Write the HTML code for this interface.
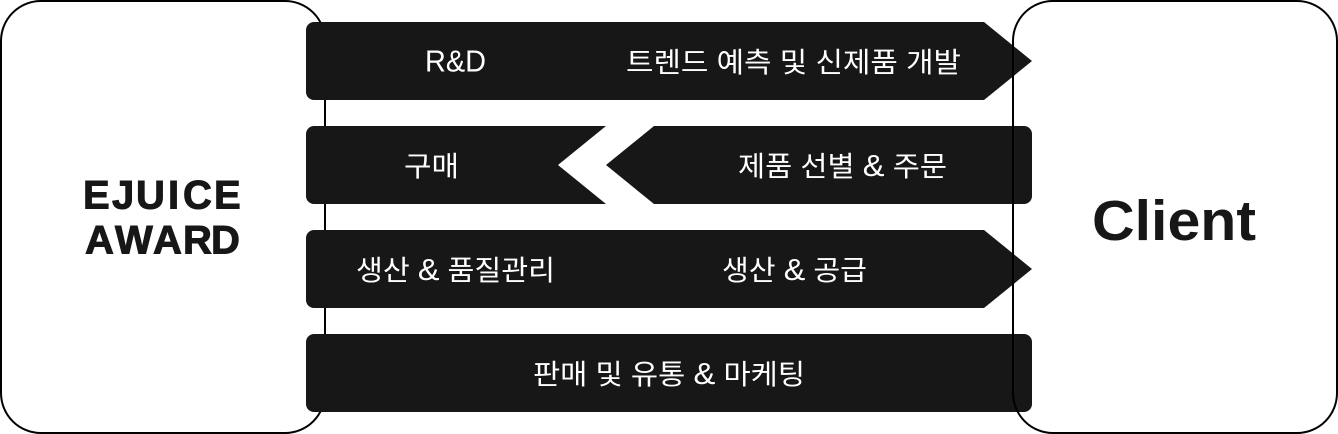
<!DOCTYPE html>
<html><head><meta charset="utf-8">
<style>
html,body{margin:0;padding:0;background:#fff;width:1338px;height:434px;overflow:hidden}
svg{display:block}
.k{font-family:"Liberation Sans","Noto Sans CJK KR",sans-serif;font-size:28px;fill:#fff;font-weight:400}
.a{font-size:31px}
</style></head>
<body>
<svg width="1338" height="434" viewBox="0 0 1338 434" xmlns="http://www.w3.org/2000/svg">
<rect x="1" y="1" width="324" height="432" rx="40" fill="#fff" stroke="#000" stroke-width="2"/>
<g fill="#171717">
<path d="M314 22H984L1032 61L984 100H314A8 8 0 0 1 306 92V30A8 8 0 0 1 314 22Z"/>
<path d="M314 126H606L558 165L606 204H314A8 8 0 0 1 306 196V134A8 8 0 0 1 314 126Z"/>
<path d="M654 126H1024A8 8 0 0 1 1032 134V196A8 8 0 0 1 1024 204H654L606 165Z"/>
<path d="M314 230H984L1032 269L984 308H314A8 8 0 0 1 306 300V238A8 8 0 0 1 314 230Z"/>
<rect x="306" y="334" width="726" height="78" rx="8"/>
</g>
<rect x="1013" y="1" width="324" height="432" rx="40" fill="none" stroke="#000" stroke-width="2"/>
<g class="k">
<text x="425" y="71.500" textLength="61" lengthAdjust="spacingAndGlyphs" style="font-size:31px">R&amp;D</text>
<text x="626" y="72" textLength="335" lengthAdjust="spacingAndGlyphs">트렌드 예측 및 신제품 개발</text>
<text x="404" y="176" textLength="55" lengthAdjust="spacingAndGlyphs">구매</text>
<text x="738" y="176" textLength="209" lengthAdjust="spacingAndGlyphs">제품 선별 <tspan class="a">&amp;</tspan> 주문</text>
<text x="356" y="280" textLength="199" lengthAdjust="spacingAndGlyphs">생산 <tspan class="a">&amp;</tspan> 품질관리</text>
<text x="722" y="280" textLength="145" lengthAdjust="spacingAndGlyphs">생산 <tspan class="a">&amp;</tspan> 공급</text>
<text x="533" y="384" textLength="272" lengthAdjust="spacingAndGlyphs">판매 및 유통 <tspan class="a">&amp;</tspan> 마케팅</text>
</g>
<text x="1092" y="240" textLength="164" lengthAdjust="spacingAndGlyphs" font-family="'Liberation Sans',sans-serif" font-weight="700" font-size="57" fill="#171717">Client</text>
<g font-family="'Liberation Sans',sans-serif" font-weight="700" font-size="40" fill="#171717" stroke="#171717" stroke-width="1">
<text x="83" y="208.500">E</text>
<text x="112" y="208.500">J</text>
<text x="136" y="208.500">U</text>
<text x="168" y="208.500">I</text>
<text x="183" y="208.500">C</text>
<text x="214" y="208.500">E</text>
<text x="85" y="253.500">A</text>
<text x="115" y="253.500">W</text>
<text x="153" y="253.500">A</text>
<text x="183" y="253.500">R</text>
<text x="211" y="253.500">D</text>
</g>
</svg>
</body></html>
